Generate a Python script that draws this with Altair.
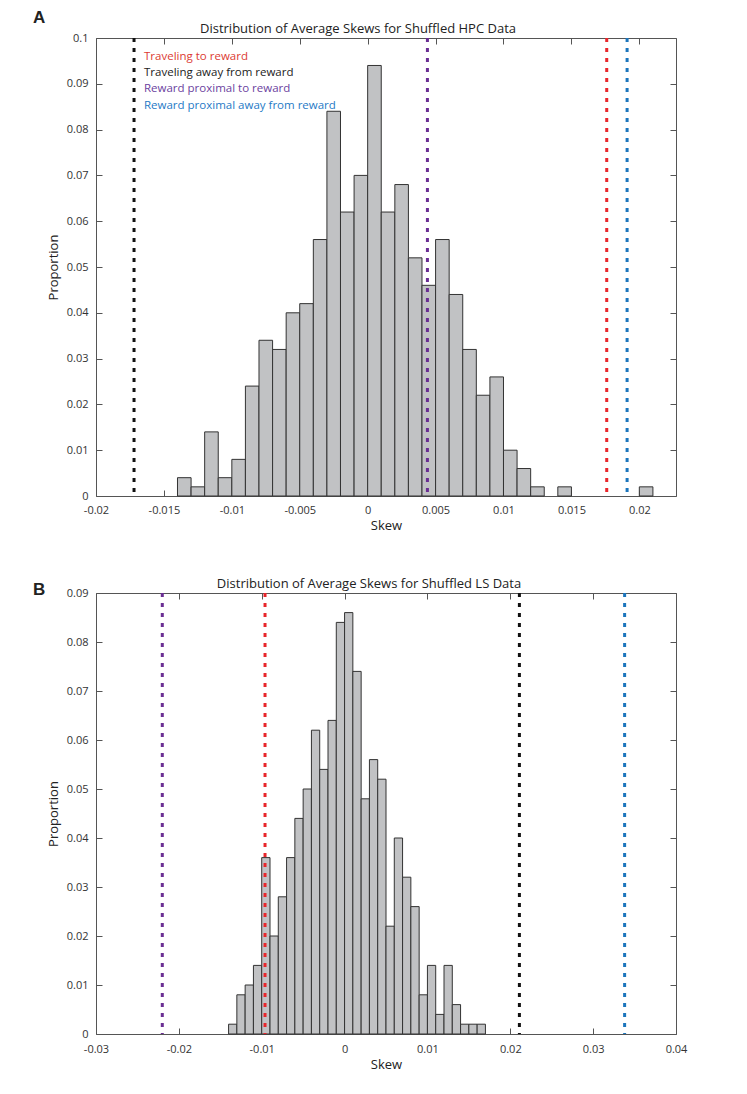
import altair as alt
import pandas as pd

FONT = "Open Sans"
LETTER_FONT = "Liberation Sans"
BIN_WIDTH = 0.001

# ---------------- data ----------------
line_labels = ["Traveling to reward", "Traveling away from reward",
               "Reward proximal to reward", "Reward proximal away from reward"]
line_colors = ["#e8262b", "#111111", "#6a2e93", "#1b75bc"]
text_colors = ["#dc3b33", "#222222", "#6b3fa0", "#1f7ac6"]

hpc_bin_left = [-0.014, -0.013, -0.012, -0.011, -0.010, -0.009, -0.008, -0.007, -0.006, -0.005,
                -0.004, -0.003, -0.002, -0.001, 0.000, 0.001, 0.002, 0.003, 0.004, 0.005,
                0.006, 0.007, 0.008, 0.009, 0.010, 0.011, 0.012, 0.014, 0.020]
hpc_prop = [0.004, 0.002, 0.014, 0.004, 0.008, 0.024, 0.034, 0.032, 0.040, 0.042,
            0.056, 0.084, 0.062, 0.070, 0.094, 0.062, 0.068, 0.052, 0.046, 0.056,
            0.044, 0.032, 0.022, 0.026, 0.010, 0.006, 0.002, 0.002, 0.002]
hpc_lines = [0.0176, -0.0172, 0.0044, 0.0191]

ls_bin_left = [-0.014, -0.013, -0.012, -0.011, -0.010, -0.009, -0.008, -0.007, -0.006, -0.005,
               -0.004, -0.003, -0.002, -0.001, 0.000, 0.001, 0.002, 0.003, 0.004, 0.005,
               0.006, 0.007, 0.008, 0.009, 0.010, 0.011, 0.012, 0.013, 0.014, 0.015, 0.016]
ls_prop = [0.002, 0.008, 0.010, 0.014, 0.036, 0.020, 0.028, 0.036, 0.044, 0.050,
           0.062, 0.054, 0.064, 0.084, 0.086, 0.074, 0.048, 0.056, 0.052, 0.022,
           0.040, 0.032, 0.026, 0.008, 0.014, 0.004, 0.014, 0.006, 0.002, 0.002, 0.002]
ls_lines = [-0.0096, 0.0211, -0.0220, 0.0338]

hpc_xticks = [-0.02, -0.015, -0.01, -0.005, 0, 0.005, 0.01, 0.015, 0.02]
hpc_yticks = [0, 0.01, 0.02, 0.03, 0.04, 0.05, 0.06, 0.07, 0.08, 0.09, 0.1]
ls_xticks = [-0.03, -0.02, -0.01, 0, 0.01, 0.02, 0.03, 0.04]
ls_yticks = [0, 0.01, 0.02, 0.03, 0.04, 0.05, 0.06, 0.07, 0.08, 0.09]

AX = "#555555"


def panel(bin_left, prop, line_vals, title, letter, xdom, xticks, ydom, yticks,
          w, h, legend, xlabpad, letter_y, title_x):
    bars = pd.DataFrame({"left": bin_left, "prop": prop})
    bars["right"] = bars["left"] + BIN_WIDTH
    xs = alt.Scale(domain=xdom, nice=False, zero=False)
    ys = alt.Scale(domain=ydom, nice=False, zero=False)

    common = dict(offset=-6, tickSize=6, domain=False, grid=False, tickColor=AX,
                  tickWidth=1, labelFont=FONT, labelFontSize=11, labelColor="#333333",
                  titleFont=FONT, titleFontSize=13, titleFontWeight="normal",
                  titleColor="#222222", labelFlush=False, labelOverlap=False,
                  labelExpr="'' + datum.value")
    bottom = alt.Axis(orient="bottom", values=xticks, labelPadding=xlabpad,
                      titlePadding=4, title="Skew", **common)
    left = alt.Axis(orient="left", values=yticks, labelPadding=8, titlePadding=6,
                    title="Proportion", **common)
    top = alt.Axis(orient="top", values=xticks, labels=False, title=None,
                   offset=-6, tickSize=6, domain=False, grid=False, tickColor=AX)
    right = alt.Axis(orient="right", values=yticks, labels=False, title=None,
                     offset=-6, tickSize=6, domain=False, grid=False, tickColor=AX)

    hist = alt.Chart(bars).mark_rect(fill="#c1c2c4", stroke="#333333", strokeWidth=1).encode(
        x=alt.X("left:Q", scale=xs, axis=bottom),
        x2="right:Q",
        y=alt.Y("prop:Q", scale=ys, axis=left),
        y2=alt.Y2(datum=0),
    )
    axes2 = alt.Chart(bars).mark_point(opacity=0).encode(
        x=alt.X("left:Q", scale=xs, axis=top),
        y=alt.Y("prop:Q", scale=ys, axis=right),
    )
    lines_df = pd.DataFrame({"label": line_labels, "value": line_vals})
    rules = alt.Chart(lines_df).mark_rule(strokeDash=[4, 6], strokeWidth=3).encode(
        x=alt.X("value:Q", scale=xs, axis=None),
        color=alt.Color("label:N", scale=alt.Scale(domain=line_labels, range=line_colors),
                        legend=None),
    )
    title_txt = alt.Chart(pd.DataFrame({"t": [title]})).mark_text(
        align="center", baseline="alphabetic", font=FONT, fontSize=13, color="#222222"
    ).encode(x=alt.value(title_x), y=alt.value(-5), text="t:N")
    letter_txt = alt.Chart(pd.DataFrame({"t": [letter]})).mark_text(
        align="left", baseline="top", font=LETTER_FONT, fontSize=17, fontWeight="bold",
        color="#222222"
    ).encode(x=alt.value(-63), y=alt.value(letter_y), text="t:N")

    layers = [hist, axes2, rules, title_txt, letter_txt]
    if legend:
        for i, (lab, col) in enumerate(zip(line_labels, text_colors)):
            layers.append(
                alt.Chart(pd.DataFrame({"t": [lab]})).mark_text(
                    align="left", baseline="alphabetic", font=FONT, fontSize=11.5, color=col
                ).encode(x=alt.value(48), y=alt.value(21.7 + 16.3 * i), text="t:N")
            )
    return alt.layer(*layers).resolve_axis(x="independent", y="independent").properties(
        width=w, height=h)


chart_a = panel(hpc_bin_left, hpc_prop, hpc_lines,
                "Distribution of Average Skews for Shuffled HPC Data", "A",
                [-0.02, 0.0227], hpc_xticks, [0, 0.1], hpc_yticks, 580, 458, True, 8, -28,
                262)
chart_b = panel(ls_bin_left, ls_prop, ls_lines,
                "Distribution of Average Skews for Shuffled LS Data", "B",
                [-0.03, 0.04], ls_xticks, [0, 0.09], ls_yticks, 580, 441, False, 9, -11,
                273)

chart = alt.vconcat(chart_a, chart_b, spacing=44).properties(
    padding={"left": 24, "top": 0, "right": 5, "bottom": 5}
).configure_view(stroke=AX, strokeWidth=1)

chart.save("out.html", embed_options={"renderer": "svg", "actions": False})
